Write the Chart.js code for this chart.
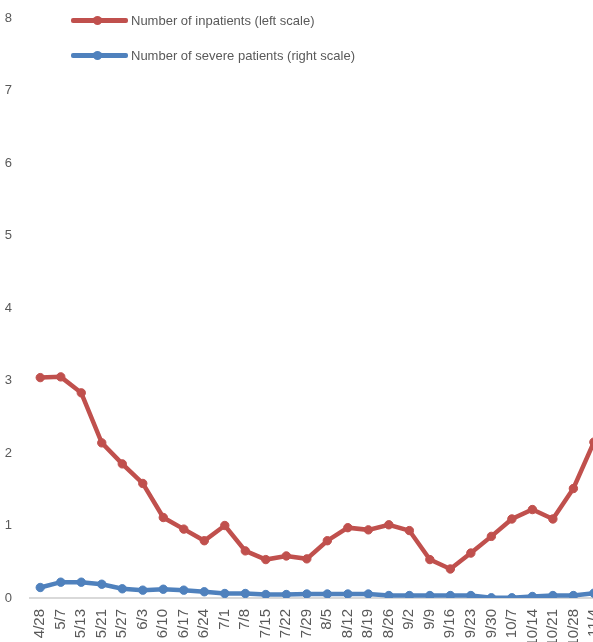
<!DOCTYPE html>
<html>
<head>
<meta charset="utf-8">
<script src="https://cdn.jsdelivr.net/npm/chart.js@4"></script>
<style>
  html, body { margin: 0; padding: 0; background: #fff; overflow: hidden; }
  #wrap { position: relative; width: 623px; height: 680px; }
  .leg { position: absolute; left: 71px; height: 14px; display: flex; align-items: center;
         font-family: "Liberation Sans", Arial, sans-serif; font-size: 13px; color: #595959; white-space: nowrap; }
  .leg .sw { position: relative; width: 57px; height: 14px; margin-right: 3px; }
  .leg .sw .ln { position: absolute; left: 0; right: 0; top: 5px; height: 4.5px; border-radius: 2px; }
  .leg .sw .pt { position: absolute; left: 22px; top: 2.5px; width: 9px; height: 9px; border-radius: 50%; }
</style>
</head>
<body>
<div id="wrap">
  <canvas id="c" width="623" height="680"></canvas>
  <div class="leg" style="top:13px;"><div class="sw"><div class="ln" style="background:#C0504D"></div><div class="pt" style="background:#C0504D"></div></div><span id="l1"></span></div>
  <div class="leg" style="top:48px;"><div class="sw"><div class="ln" style="background:#4F81BD"></div><div class="pt" style="background:#4F81BD"></div></div><span id="l2"></span></div>
</div>
<script>
const categories = ["4/28","5/7","5/13","5/21","5/27","6/3","6/10","6/17","6/24","7/1","7/8","7/15","7/22","7/29","8/5","8/12","8/19","8/26","9/2","9/9","9/16","9/23","9/30","10/7","10/14","10/21","10/28","11/4"];
const inpatients = [3.04,3.05,2.83,2.14,1.85,1.58,1.11,0.95,0.79,1.00,0.65,0.53,0.58,0.54,0.79,0.97,0.94,1.01,0.93,0.53,0.40,0.62,0.85,1.09,1.22,1.09,1.51,2.15];
const severe = [14.5,21.8,21.8,19.0,12.7,10.8,12.1,10.8,8.6,6.2,6.2,4.8,4.8,5.5,5.5,5.5,5.5,3.4,3.4,3.4,3.4,3.4,0.3,0.3,2.1,3.4,3.4,6.6];
const leftTicks = [0,1,2,3,4,5,6,7,8];
const seriesNames = ["Number of inpatients (left scale)", "Number of severe patients (right scale)"];

document.getElementById('l1').textContent = seriesNames[0];
document.getElementById('l2').textContent = seriesNames[1];

const RED = '#C0504D', BLUE = '#4F81BD';
const lineStyle = (c) => ({
  borderColor: c, backgroundColor: c, pointBackgroundColor: c, pointBorderColor: c,
  borderWidth: 4.5, pointRadius: 4.2, pointBorderWidth: 1, tension: 0, fill: false
});

new Chart(document.getElementById('c'), {
  type: 'line',
  data: {
    labels: categories,
    datasets: [
      Object.assign({ label: seriesNames[1], data: severe, yAxisID: 'y1' }, lineStyle(BLUE)),
      Object.assign({ label: seriesNames[0], data: inpatients, yAxisID: 'y' }, lineStyle(RED))
    ]
  },
  options: {
    responsive: false,
    animation: false,
    devicePixelRatio: 1,
    layout: { padding: { top: 18, right: 6, left: 0, bottom: 0 } },
    plugins: { legend: { display: false }, tooltip: { enabled: false } },
    scales: {
      x: {
        offset: true,
        grid: { display: false, drawTicks: false },
        border: { display: true, color: '#D9D9D9', width: 2 },
        ticks: {
          autoSkip: false, maxRotation: 90, minRotation: 90, padding: 11,
          color: '#595959', font: { family: '"Liberation Sans", Arial, sans-serif', size: 15 }
        },
        afterFit: (s) => { s.height = 82; }
      },
      y: {
        position: 'left', min: 0, max: 8,
        afterBuildTicks: (s) => { s.ticks = leftTicks.map(v => ({ value: v })); },
        grid: { display: false, drawTicks: false },
        border: { display: false },
        ticks: {
          padding: 18, color: '#595959',
          font: { family: '"Liberation Sans", Arial, sans-serif', size: 13 }
        },
        afterFit: (s) => { s.width = 30; s.paddingTop = 0; s.paddingBottom = 0; }
      },
      y1: {
        position: 'right', min: 0, max: 800, display: false
      }
    }
  }
});
</script>
</body>
</html>
